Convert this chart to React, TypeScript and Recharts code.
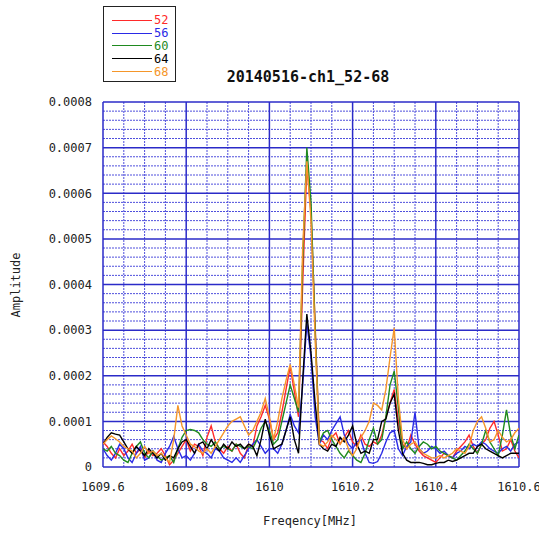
import { Line, LineChart, ReferenceLine, XAxis, YAxis } from 'recharts'

// ============================================================
// App.tsx — 20140516-ch1_52-68 spectrum (amplitude vs frequency)
// ============================================================
// Amplitudes are stored in units of 1e-6 to keep the lists readable.

const FREQS = [
  1609.6, 1609.61, 1609.62, 1609.63, 1609.64, 1609.65, 1609.66, 1609.67, 1609.68, 1609.69,
  1609.7, 1609.71, 1609.72, 1609.73, 1609.74, 1609.75, 1609.76, 1609.77, 1609.78, 1609.79,
  1609.8, 1609.81, 1609.82, 1609.83, 1609.84, 1609.85, 1609.86, 1609.87, 1609.88, 1609.89,
  1609.9, 1609.91, 1609.92, 1609.93, 1609.94, 1609.95, 1609.96, 1609.97, 1609.98, 1609.99,
  1610.0, 1610.01, 1610.02, 1610.03, 1610.04, 1610.05, 1610.06, 1610.07, 1610.08, 1610.09,
  1610.1, 1610.11, 1610.12, 1610.13, 1610.14, 1610.15, 1610.16, 1610.17, 1610.18, 1610.19,
  1610.2, 1610.21, 1610.22, 1610.23, 1610.24, 1610.25, 1610.26, 1610.27, 1610.28, 1610.29,
  1610.3, 1610.31, 1610.32, 1610.33, 1610.34, 1610.35, 1610.36, 1610.37, 1610.38, 1610.39,
  1610.4, 1610.41, 1610.42, 1610.43, 1610.44, 1610.45, 1610.46, 1610.47, 1610.48, 1610.49,
  1610.5, 1610.51, 1610.52, 1610.53, 1610.54, 1610.55, 1610.56, 1610.57, 1610.58, 1610.59,
  1610.6,
]

const CH52 = [
  55, 45, 30, 20, 40, 25, 35, 50, 30, 40,
  20, 35, 25, 30, 40, 25, 5, 15, 30, 45,
  60, 35, 50, 45, 25, 65, 90, 55, 40, 30,
  45, 35, 50, 30, 20, 50, 45, 90, 110, 135,
  105, 60, 75, 120, 170, 220, 165, 110, 400, 660,
  560, 310, 60, 55, 40, 65, 75, 50, 65, 80,
  55, 45, 70, 50, 45, 55, 50, 70, 110, 140,
  170, 100, 50, 40, 70, 50, 35, 25, 20, 15,
  10, 20, 30, 25, 20, 35, 45, 55, 70, 45,
  30, 50, 60, 85, 100, 70, 35, 40, 60, 35,
  20,
]

const CH56 = [
  40, 25, 15, 30, 50, 40, 20, 10, 30, 45,
  15, 20, 35, 15, 10, 30, 45, 67, 40, 20,
  25, 15, 30, 50, 35, 30, 20, 40, 35, 20,
  15, 10, 20, 10, 25, 40, 50, 60, 45, 30,
  40, 40, 30, 50, 80, 115, 90, 75, 180, 315,
  240, 110, 50, 70, 60, 80, 95, 110, 70, 50,
  40, 55, 60, 30, 10, 8, 12, 30, 55, 75,
  80, 40, 25, 45, 55, 120, 40, 30, 35, 45,
  40, 30, 35, 25, 20, 30, 35, 45, 40, 50,
  45, 55, 50, 40, 35, 30, 40, 45, 35, 50,
  55,
]

const CH60 = [
  40, 35, 45, 30, 25, 15, 10, 30, 45, 55,
  30, 20, 35, 25, 15, 20, 25, 10, 40, 65,
  80, 82, 80, 75, 60, 50, 45, 55, 40, 45,
  40, 35, 50, 45, 40, 45, 40, 60, 85, 100,
  80, 50, 60, 100, 140, 180, 150, 120, 450, 700,
  580, 300, 55, 75, 80, 60, 45, 30, 20, 35,
  25, 15, 10, 30, 60, 85, 50, 60, 110, 180,
  210, 130, 40, 55, 40, 30, 45, 55, 50, 40,
  45, 35, 30, 25, 20, 15, 25, 35, 50, 40,
  30, 50, 80, 55, 40, 25, 70, 125, 70, 40,
  70,
]

const CH64 = [
  50, 65, 75, 72, 70, 55, 40, 30, 45, 35,
  25, 40, 30, 20, 30, 15, 25, 20, 40, 55,
  60, 45, 30, 50, 55, 40, 60, 45, 35, 50,
  40, 55, 45, 50, 40, 50, 45, 25, 60, 105,
  70, 40, 45, 50, 80, 110, 60, 30, 190, 335,
  250, 140, 50, 40, 35, 50, 45, 65, 55, 70,
  90, 50, 30, 35, 30, 60, 60, 100, 105, 140,
  160, 80, 30, 15, 10, 10, 10, 8, 5, 5,
  8, 10, 10, 15, 12, 15, 20, 25, 30, 30,
  45, 50, 40, 35, 30, 25, 20, 25, 30, 30,
  30,
]

const CH68 = [
  50, 60, 68, 62, 55, 45, 40, 35, 20, 30,
  45, 30, 35, 25, 30, 20, 10, 60, 135, 90,
  70, 50, 45, 35, 30, 40, 30, 45, 60, 75,
  90, 100, 105, 110, 90, 70, 80, 100, 120, 150,
  110, 60, 100, 150, 190, 225, 180, 130, 480, 670,
  540, 280, 50, 45, 55, 70, 60, 50, 65, 40,
  25, 40, 65, 80, 100, 140, 135, 125, 170, 240,
  305, 150, 60, 40, 50, 55, 40, 30, 25, 20,
  20, 25, 20, 25, 30, 40, 35, 30, 45, 80,
  100, 110, 85, 55, 60, 80, 65, 55, 60, 75,
  85,
]

const SERIES = [
  { key: 'c52', name: '52', color: '#ff2a2a', values: CH52 },
  { key: 'c56', name: '56', color: '#2a2ae6', values: CH56 },
  { key: 'c60', name: '60', color: '#1f8a1f', values: CH60 },
  { key: 'c64', name: '64', color: '#000000', values: CH64 },
  { key: 'c68', name: '68', color: '#f5962a', values: CH68 },
]

const X_TICKS = [1609.6, 1609.8, 1610, 1610.2, 1610.4, 1610.6]
const X_MINOR = [
  1609.65, 1609.7, 1609.75, 1609.85, 1609.9, 1609.95, 1610.05, 1610.1,
  1610.15, 1610.25, 1610.3, 1610.35, 1610.45, 1610.5, 1610.55,
]
const Y_TICKS = [0, 0.0001, 0.0002, 0.0003, 0.0004, 0.0005, 0.0006, 0.0007, 0.0008]
const Y_MINOR = [
  0.00002, 0.00004, 0.00006, 0.00008, 0.00012, 0.00014, 0.00016, 0.00018,
  0.00022, 0.00024, 0.00026, 0.00028, 0.00032, 0.00034, 0.00036, 0.00038,
  0.00042, 0.00044, 0.00046, 0.00048, 0.00052, 0.00054, 0.00056, 0.00058,
  0.00062, 0.00064, 0.00066, 0.00068, 0.00072, 0.00074, 0.00076, 0.00078,
]

const TITLE = '20140516-ch1_52-68'
const X_LABEL = 'Freqency[MHz]'
const Y_LABEL = 'Amplitude'

const MONO = '"DejaVu Sans Mono", "Liberation Mono", monospace'
const GRID_MAJOR = '#2b2bc8'
const GRID_MINOR = '#4f4fdc'

const data = FREQS.map((f, i) => {
  const row: Record<string, number> = { f }
  SERIES.forEach((s) => {
    row[s.key] = s.values[i] * 1e-6
  })
  return row
})

function LegendBox() {
  return (
    <div
      style={{
        position: 'absolute',
        left: 103,
        top: 6,
        width: 73,
        height: 76,
        border: '1px solid #222',
        background: '#fff',
        boxSizing: 'border-box',
        paddingTop: 7,
      }}
    >
      {SERIES.map((s) => (
        <div
          key={s.key}
          style={{ display: 'flex', alignItems: 'center', height: 12.8 }}
        >
          <div
            style={{
              marginLeft: 8,
              width: 40,
              height: 1,
              background: s.color,
            }}
          />
          <span
            style={{
              marginLeft: 2,
              fontFamily: MONO,
              fontSize: 12,
              lineHeight: '12px',
              color: s.color,
            }}
          >
            {s.name}
          </span>
        </div>
      ))}
    </div>
  )
}

export default function App() {
  return (
    <div
      style={{
        position: 'absolute',
        left: 0,
        top: 0,
        width: 539,
        height: 539,
        background: '#fff',
        fontFamily: MONO,
      }}
    >
      <LineChart
        width={539}
        height={539}
        data={data}
        margin={{ top: 102, right: 20, bottom: 42, left: 43 }}
      >
        <XAxis
          dataKey="f"
          type="number"
          domain={[1609.6, 1610.6]}
          ticks={X_TICKS}
          height={30}
          axisLine={false}
          tickLine={false}
          tickSize={0}
          tickMargin={15}
          allowDataOverflow
          tick={{ fontSize: 12, fill: '#222', fontFamily: MONO }}
        />
        <YAxis
          type="number"
          domain={[0, 0.0008]}
          ticks={Y_TICKS}
          width={60}
          axisLine={false}
          tickLine={false}
          tickSize={0}
          tickMargin={11}
          allowDataOverflow
          tick={{ fontSize: 12, fill: '#222', fontFamily: MONO }}
        />
        {/* minor dotted grid */}
        {X_MINOR.map((v) => (
          <ReferenceLine key={`xm${v}`} x={v} stroke={GRID_MINOR} strokeDasharray="2 1" strokeWidth={1} />
        ))}
        {Y_MINOR.map((v) => (
          <ReferenceLine key={`ym${v}`} y={v} stroke={GRID_MINOR} strokeDasharray="2 1" strokeWidth={1} />
        ))}
        {/* major solid grid, incl. frame */}
        {X_TICKS.map((v) => (
          <ReferenceLine key={`xM${v}`} x={v} stroke={GRID_MAJOR} strokeWidth={1.5} />
        ))}
        {Y_TICKS.map((v) => (
          <ReferenceLine key={`yM${v}`} y={v} stroke={GRID_MAJOR} strokeWidth={1.5} />
        ))}
        {SERIES.map((s) => (
          <Line
            key={s.key}
            dataKey={s.key}
            name={s.name}
            stroke={s.color}
            strokeWidth={1.4}
            dot={false}
            type="linear"
            isAnimationActive={false}
          />
        ))}
      </LineChart>
      <LegendBox />
      <div
        style={{
          position: 'absolute',
          left: 150,
          width: 316,
          top: 68,
          textAlign: 'center',
          fontWeight: 'bold',
          fontSize: 15,
          color: '#111',
        }}
      >
        {TITLE}
      </div>
      <div
        style={{
          position: 'absolute',
          left: 160,
          width: 300,
          top: 514,
          textAlign: 'center',
          fontSize: 12,
          color: '#222',
        }}
      >
        {X_LABEL}
      </div>
      <div
        style={{
          position: 'absolute',
          left: 16,
          top: 285,
          fontSize: 12,
          color: '#222',
          transform: 'translate(-50%, -50%) rotate(-90deg)',
          whiteSpace: 'nowrap',
        }}
      >
        {Y_LABEL}
      </div>
    </div>
  )
}
